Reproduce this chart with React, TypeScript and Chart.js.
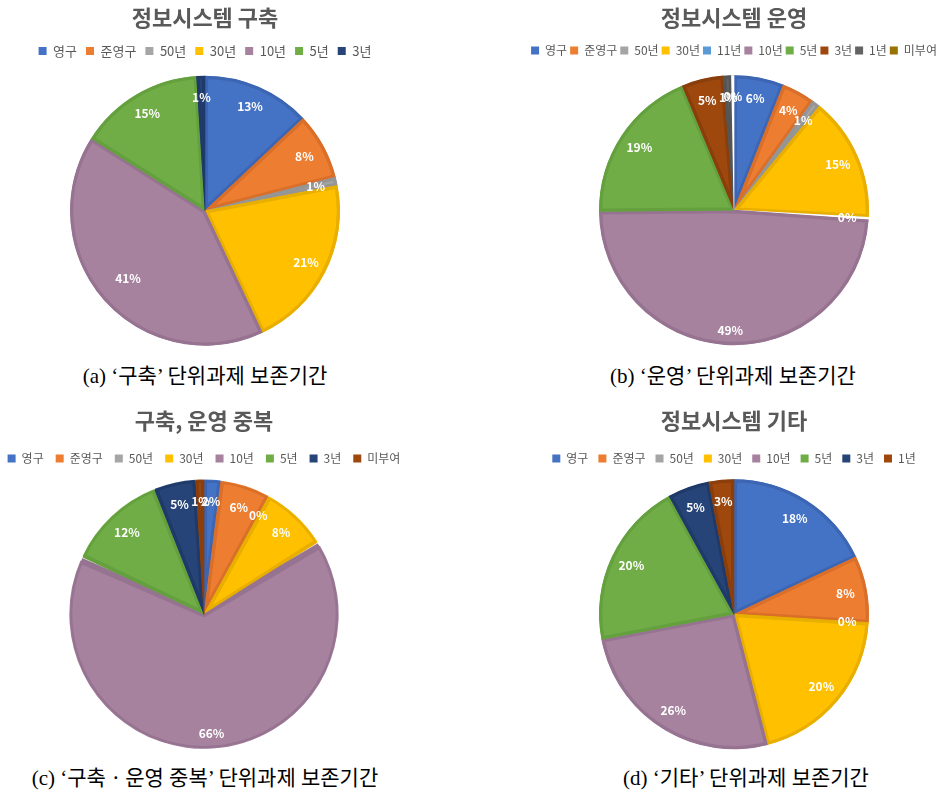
import React, { useEffect, useRef } from "react";
import { Chart, registerables } from "chart.js";

Chart.register(...registerables);

// ---------- data ----------
const titleA = "정보시스템 구축";
const labelsA = ["영구", "준영구", "50년", "30년", "10년", "5년", "3년"];
const valuesA = [13, 8, 1, 21, 41, 15, 1];

const titleB = "정보시스템 운영";
const labelsB = ["영구", "준영구", "50년", "30년", "11년", "10년", "5년", "3년", "1년", "미부여"];
const valuesB = [6, 4, 1, 15, 0.3, 49, 19, 5, 1, 0.3];

const titleC = "구축, 운영 중복";
const labelsC = ["영구", "준영구", "50년", "30년", "10년", "5년", "3년", "미부여"];
const valuesC = [2, 6, 0, 8, 66, 12, 5, 1];

const titleD = "정보시스템 기타";
const labelsD = ["영구", "준영구", "50년", "30년", "10년", "5년", "3년", "1년"];
const valuesD = [18, 8, 0, 20, 26, 20, 5, 3];

const captionA = "(a) ‘구축’ 단위과제 보존기간";
const captionB = "(b) ‘운영’ 단위과제 보존기간";
const captionC = "(c) ‘구축ㆍ운영 중복’ 단위과제 보존기간";
const captionD = "(d) ‘기타’ 단위과제 보존기간";

// ---------- styles ----------
const BLUE = ["#4472C4", "#3C66B3"];
const ORANGE = ["#ED7D31", "#D96F28"];
const GRAY = ["#A5A5A5", "#959595"];
const YELLOW = ["#FFC000", "#E8AE00"];
const LBLUE = ["#5B9BD5", "#FFFFFF"];
const PURPLE = ["#A6829F", "#967390"];
const GREEN = ["#70AD47", "#64A03E"];
const NAVY = ["#264478", "#1F3A68"];
const BROWN = ["#9E480E", "#8A3E0B"];
const DGRAY = ["#636363", "#555555"];
const OLIVE = ["#997300", "#FFFFFF"];

const stylesA = [BLUE, ORANGE, GRAY, YELLOW, PURPLE, GREEN, NAVY];
const stylesB = [BLUE, ORANGE, GRAY, YELLOW, LBLUE, PURPLE, GREEN, BROWN, DGRAY, OLIVE];
const stylesC = [BLUE, ORANGE, GRAY, YELLOW, PURPLE, GREEN, NAVY, BROWN];
const stylesD = [BLUE, ORANGE, GRAY, YELLOW, PURPLE, GREEN, NAVY, BROWN];

const FONT = '"Noto Sans CJK KR", "Noto Sans", sans-serif';

const sliceLabels = {
  id: "sliceLabels",
  afterDatasetsDraw(chart: any) {
    const ctx = chart.ctx;
    const vals = chart.data.datasets[0].data as number[];
    const total = vals.reduce((s, v) => s + v, 0);
    const meta = chart.getDatasetMeta(0);
    ctx.save();
    ctx.font = `bold 12px ${FONT}`;
    ctx.fillStyle = "#FFFFFF";
    ctx.textAlign = "center";
    ctx.textBaseline = "middle";
    meta.data.forEach((el: any, i: number) => {
      const p = el.getProps(["x", "y", "startAngle", "endAngle", "outerRadius"], true);
      const pct = Math.round((vals[i] / total) * 100);
      const k = pct >= 45 ? 0.89 : pct >= 35 ? 0.76 : 0.84;
      const mid = (p.startAngle + p.endAngle) / 2;
      ctx.fillText(
        pct + "%",
        p.x + Math.cos(mid) * p.outerRadius * k,
        p.y + Math.sin(mid) * p.outerRadius * k
      );
    });
    ctx.restore();
  },
};

type PieProps = {
  title: string;
  labels: string[];
  values: number[];
  styles: string[][];
  width: number;
  height: number;
  left: number;
  top: number;
  titlePad: { top: number; bottom: number };
  legendPad: number;
  legendFont: number;
  radius: number;
  spacing?: number;
  clipWidth?: number;
};

function PieChart(props: PieProps) {
  const ref = useRef<HTMLCanvasElement | null>(null);
  useEffect(() => {
    if (!ref.current) return;
    const chart = new Chart(ref.current, {
      type: "pie",
      data: {
        labels: props.labels,
        datasets: [
          {
            data: props.values,
            backgroundColor: props.styles.map((s) => s[0]),
            borderColor: props.styles.map((s) => s[1]),
            borderWidth: 3,
            borderAlign: "inner",
            radius: props.radius,
            spacing: props.spacing || 0,
          } as any,
        ],
      },
      options: {
        responsive: false,
        animation: false,
        layout: { padding: 0 },
        plugins: {
          title: {
            display: true,
            text: props.title,
            color: "#595959",
            font: { size: 22, weight: "bold", family: FONT },
            padding: props.titlePad,
          },
          legend: {
            display: true,
            position: "top",
            labels: {
              boxWidth: 8,
              boxHeight: 8,
              padding: props.legendPad,
              color: "#595959",
              font: { size: props.legendFont, family: FONT },
              generateLabels: (chart: any) => {
                const items = (Chart as any).overrides.doughnut.plugins.legend.labels.generateLabels(chart);
                return items.map((it: any) => ({ ...it, strokeStyle: it.fillStyle, lineWidth: 0 }));
              },
            },
          },
          tooltip: { enabled: false },
        },
      } as any,
      plugins: [sliceLabels],
    });
    return () => chart.destroy();
  }, []);
  const canvas = (
    <canvas
      ref={ref}
      width={props.width}
      height={props.height}
      style={{ position: "absolute", left: props.clipWidth ? props.left : 0, top: 0, width: props.width, height: props.height }}
    />
  );
  if (props.clipWidth) {
    return (
      <div style={{ position: "absolute", left: 0, top: props.top, width: props.clipWidth, height: props.height, overflow: "hidden" }}>
        {canvas}
      </div>
    );
  }
  return (
    <div style={{ position: "absolute", left: props.left, top: props.top, width: props.width, height: props.height }}>
      {canvas}
    </div>
  );
}

function Caption({ text, cx, cy }: { text: string; cx: number; cy: number }) {
  return (
    <div
      style={{
        position: "absolute",
        left: cx - 250,
        top: cy - 13,
        width: 500,
        height: 26,
        lineHeight: "26px",
        textAlign: "center",
        fontSize: 21,
        color: "#000",
        fontFamily: '"Liberation Serif", "Noto Sans CJK KR", serif',
        whiteSpace: "nowrap",
      }}
    >
      {text}
    </div>
  );
}

export default function App() {
  return (
    <div style={{ position: "absolute", left: 0, top: 0, width: 949, height: 796, overflow: "hidden", background: "#fff" }}>
      <PieChart
        title={titleA}
        labels={labelsA}
        values={valuesA}
        styles={stylesA}
        left={0}
        top={0}
        width={410}
        height={354}
        titlePad={{ top: 4, bottom: 5 }}
        legendPad={9}
        legendFont={13}
        radius={135}
      />
      <PieChart
        title={titleB}
        labels={labelsB}
        values={valuesB}
        styles={stylesB}
        left={519}
        top={0}
        width={430}
        height={354}
        titlePad={{ top: 4, bottom: 11 }}
        legendPad={3}
        legendFont={12}
        radius={135}
      />
      <PieChart
        title={titleC}
        labels={labelsC}
        values={valuesC}
        styles={stylesC}
        left={-9}
        top={400}
        width={426}
        height={354}
        titlePad={{ top: 7, bottom: 7 }}
        legendPad={12}
        legendFont={12}
        radius={134}
        spacing={2}
        clipWidth={400}
      />
      <PieChart
        title={titleD}
        labels={labelsD}
        values={valuesD}
        styles={stylesD}
        left={519}
        top={400}
        width={430}
        height={354}
        titlePad={{ top: 7, bottom: 9 }}
        legendPad={10}
        legendFont={12}
        radius={135}
      />
      <Caption text={captionA} cx={205} cy={376} />
      <Caption text={captionB} cx={733} cy={376} />
      <Caption text={captionC} cx={205} cy={778} />
      <Caption text={captionD} cx={746} cy={778} />
    </div>
  );
}
